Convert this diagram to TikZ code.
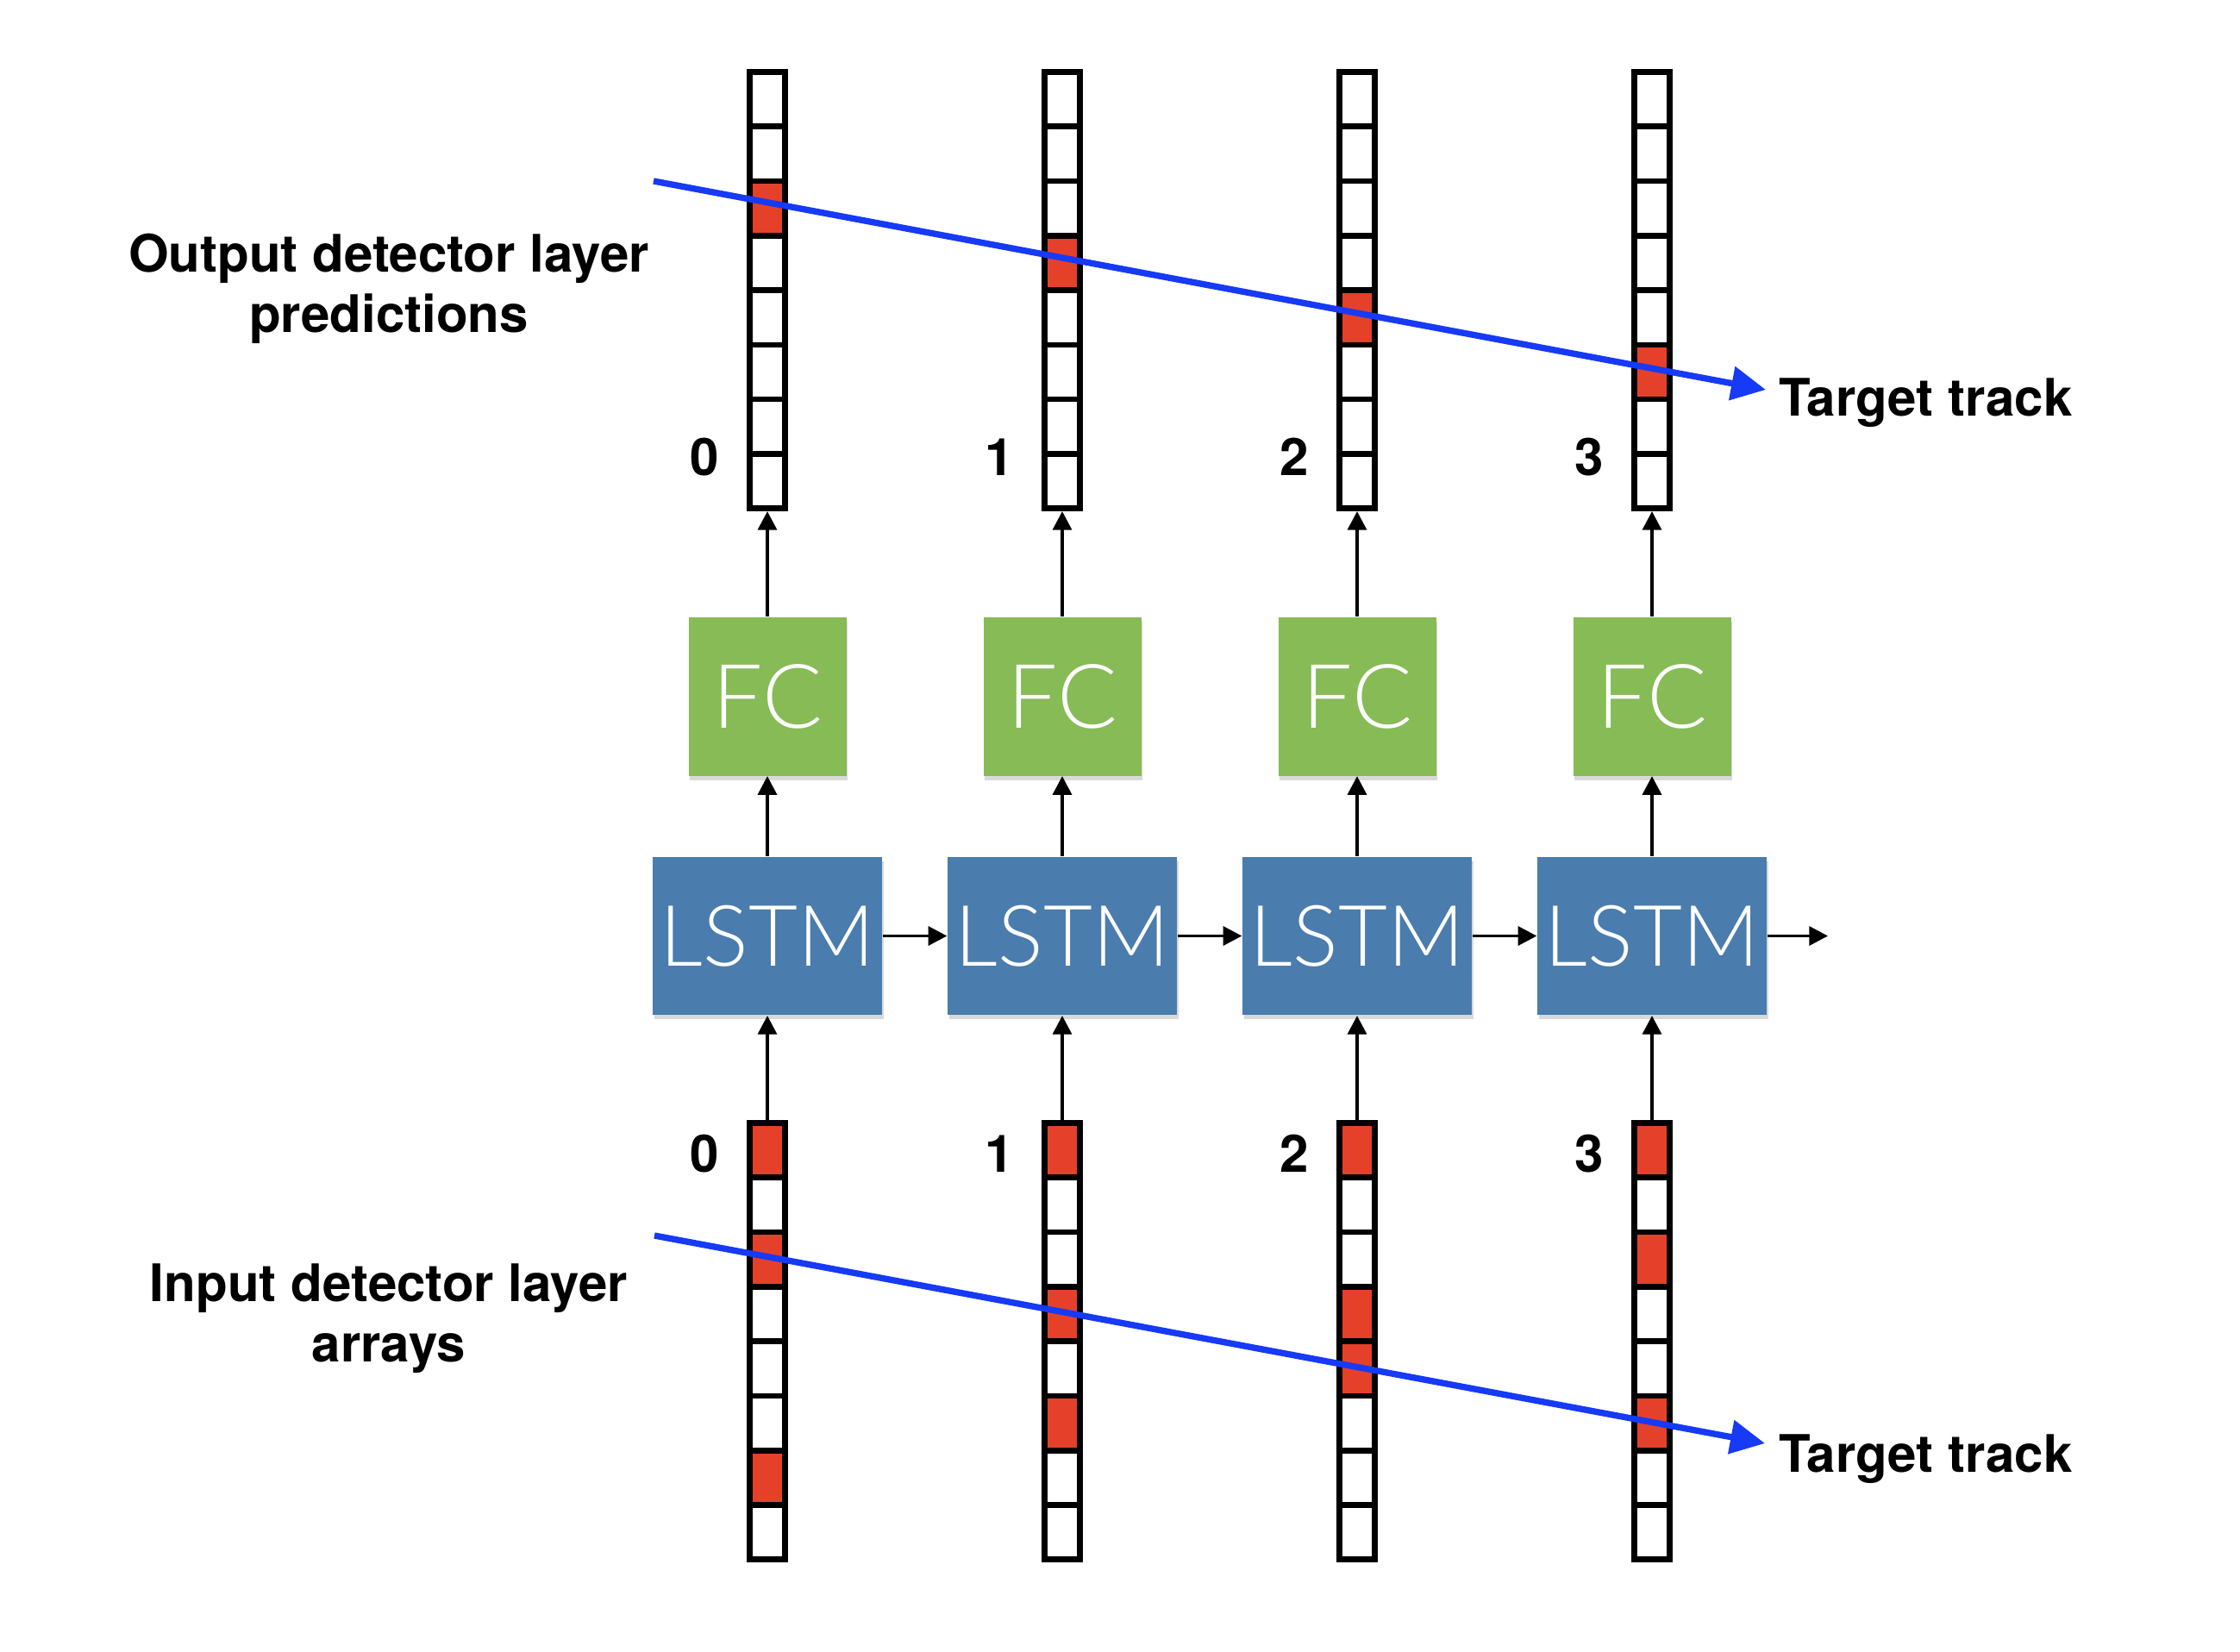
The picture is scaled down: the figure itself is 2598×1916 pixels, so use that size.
\documentclass[tikz,border=0pt]{standalone}
\usepackage{fontspec}
\setmainfont{TeX Gyre Heros}
\IfFontExistsTF{Lato Light}{\newfontfamily\boxfont{Lato Light}}{\newfontfamily\boxfont{TeX Gyre Heros}}
\usetikzlibrary{arrows.meta,shadows}
\definecolor{hitred}{RGB}{229,65,42}
\definecolor{fcgreen}{RGB}{134,187,85}
\definecolor{lstmblue}{RGB}{74,124,173}
\definecolor{trackblue}{RGB}{22,58,245}
\tikzset{
	cellline/.style={draw=black, line width=2pt},
	layercol/.style={draw, line width=2pt, minimum width=12.4pt, minimum height=151.9pt, inner sep=0pt},
	boxshadow/.style={drop shadow={shadow xshift=0.5pt, shadow yshift=-1.5pt, opacity=0.3}},
	fcbox/.style={boxshadow, fill=fcgreen, text=white, inner sep=0pt, minimum width=54.9pt, minimum height=55.2pt, font=\boxfont\fontsize{31}{31}\selectfont},
	lstmbox/.style={boxshadow, fill=lstmblue, text=white, inner sep=0pt, minimum width=79.8pt, minimum height=55.1pt, font=\boxfont\fontsize{29.5}{29.5}\selectfont},
	flow/.style={-{Triangle[length=6.5pt,width=6.6pt]}, line width=1pt},
	track/.style={-{Triangle[length=12pt,width=11.5pt]}, line width=2.2pt, trackblue},
	sidelabel/.style={align=center, font=\fontsize{18}{20.9}\selectfont\bfseries},
	idxlabel/.style={inner sep=0pt, font=\fontsize{18}{20.9}\selectfont\bfseries},
}

\begin{document}
\begin{tikzpicture}[x=0.3pt, y=-0.3pt]
	%%%%% START %%%%%
	\useasboundingbox (0, 0) rectangle (2598, 1916);
	
	% one column per detector layer: output array, FC, LSTM, input array
	\foreach \i/\outhit/\inhits in {0/2/{0,2,6}, 1/3/{0,3,5}, 2/4/{0,3,4}, 3/5/{0,2,5}} {
		\pgfmathsetmacro{\cx}{890+342*\i}
		
		\foreach \c in {0,...,7} {
			\draw[cellline, fill=white] (\cx-20.65, 83.35+63.3*\c) rectangle (\cx+20.65, 146.65+63.3*\c);
			\draw[cellline, fill=white] (\cx-20.65, 1302.35+63.3*\c) rectangle (\cx+20.65, 1365.65+63.3*\c);
		}
		\draw[cellline, fill=hitred] (\cx-20.65, 83.35+63.3*\outhit) rectangle (\cx+20.65, 146.65+63.3*\outhit);
		\foreach \c in \inhits {
			\draw[cellline, fill=hitred] (\cx-20.65, 1302.35+63.3*\c) rectangle (\cx+20.65, 1365.65+63.3*\c);
		}
		
		\node[layercol] (out\i) at (\cx, 336.55) {};
		\node[layercol] (in\i) at (\cx, 1555.55) {};
		\node[idxlabel] (outidx\i) at (\cx-73, 530) {\i};
		\node[idxlabel] (inidx\i) at (\cx-73, 1338) {\i};
		
		\node[fcbox] (fc\i) at (\cx, 807.5) {FC};
		\node[lstmbox] (lstm\i) at (\cx, 1085.5) {LSTM};
		
		\draw[flow] (in\i.north) -- (lstm\i.south);
		\draw[flow] (lstm\i.north) -- (fc\i.south);
		\draw[flow] (fc\i.north) -- (out\i.south);
	}
	
	% recurrent links
	\foreach \i/\j in {0/1, 1/2, 2/3}
		\draw[flow] (lstm\i.east) -- (lstm\j.west);
	\coordinate (lstmtail) at (2120, 1085.5);
	\draw[flow] (lstm3.east) -- (lstmtail);
	
	% target tracks
	\coordinate (outtrackA) at (758, 210);
	\coordinate (outtrackB) at (2048, 452);
	\draw[track] (outtrackA) -- (outtrackB);
	\coordinate (intrackA) at (759, 1433);
	\coordinate (intrackB) at (2047, 1674);
	\draw[track] (intrackA) -- (intrackB);
	
	\node[sidelabel, anchor=base west, inner sep=0pt] (outtarget) at (2063, 482) {Target track};
	\node[sidelabel, anchor=base west, inner sep=0pt] (intarget) at (2063, 1707) {Target track};
	
	\node[sidelabel] (outlabel) at (451, 335) {Output detector layer\\predictions};
	\node[sidelabel] (inlabel) at (451, 1529) {Input detector layer\\arrays};
	
	%%%%% END %%%%%
\end{tikzpicture}
\end{document}
